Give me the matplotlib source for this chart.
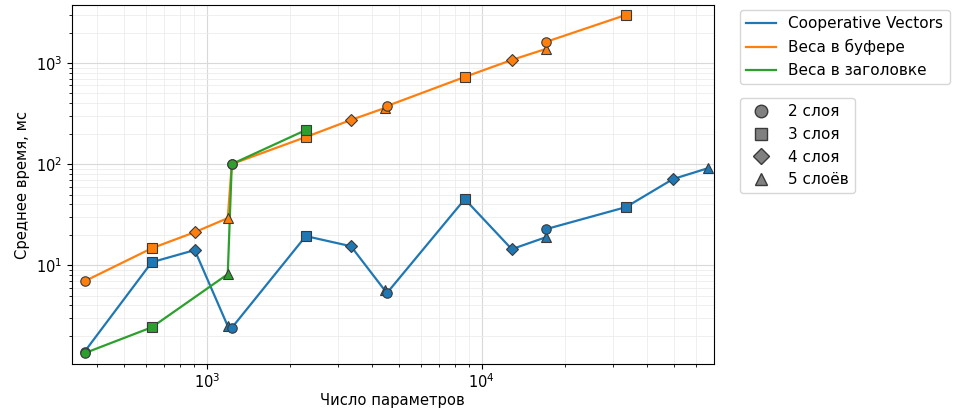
import matplotlib.pyplot as plt
from matplotlib.lines import Line2D

# number of parameters / mean time (ms) / layer count per point
coop_params = [360, 631, 904, 1192, 1233, 2291, 3343, 4436, 4519, 8671, 12850, 17100, 17100, 33400, 49500, 66400]
coop_time = [1.4, 10.7, 14.1, 2.5, 2.4, 19.4, 15.4, 5.65, 5.3, 45, 14.4, 18.9, 22.7, 37.5, 71, 91]
coop_layers = [2, 3, 4, 5, 2, 3, 4, 5, 2, 3, 4, 5, 2, 3, 4, 5]

buf_params = [360, 631, 904, 1192, 1233, 2291, 3343, 4436, 4519, 8671, 12850, 17100, 17100, 33400]
buf_time = [6.95, 14.7, 21.2, 29.2, 100, 185, 273, 358, 375, 727, 1071, 1376, 1615, 2985]
buf_layers = [2, 3, 4, 5, 2, 3, 4, 5, 2, 3, 4, 5, 2, 3]

hdr_params = [360, 631, 1192, 1233, 2291]
hdr_time = [1.35, 2.43, 8.15, 100, 217]
hdr_layers = [2, 3, 5, 2, 3]

series_names = ["Cooperative Vectors", "Веса в буфере", "Веса в заголовке"]
layer_labels = {2: "2 слоя", 3: "3 слоя", 4: "4 слоя", 5: "5 слоёв"}
layer_markers = {2: "o", 3: "s", 4: "D", 5: "^"}
colors = ["#1f77b4", "#ff7f0e", "#2ca02c"]

series = [
    (coop_params, coop_time, coop_layers),
    (buf_params, buf_time, buf_layers),
    (hdr_params, hdr_time, hdr_layers),
]

fig = plt.figure(figsize=(9.57, 4.11), dpi=100)
ax = fig.add_axes([0.075, 0.114, 0.671, 0.874])

for (xs, ys, layers), color in zip(series, colors):
    ax.plot(xs, ys, color=color, linewidth=1.6, zorder=2)
    for x, y, n in zip(xs, ys, layers):
        ms = 6 if layer_markers[n] == "D" else 6.8
        ax.plot(x, y, marker=layer_markers[n], markersize=ms, color=color,
                markeredgecolor="#3a3a3a", markeredgewidth=0.8, linestyle="none", zorder=3)

ax.set_xscale("log")
ax.set_yscale("log")
ax.set_xlim(323, 69800)
ax.set_ylim(1.05, 3750)
ax.grid(True, which="major", color="#d9d9d9", linewidth=0.8)
ax.grid(True, which="minor", color="#ececec", linewidth=0.6)
ax.set_axisbelow(True)
ax.tick_params(labelsize=10.5)
ax.tick_params(axis="x", pad=2.5)
ax.set_xlabel("Число параметров", fontsize=10.6, labelpad=1)
ax.set_ylabel("Среднее время, мс", fontsize=10.6)

line_handles = [Line2D([0], [0], color=c, linewidth=1.6) for c in colors]
leg1 = ax.legend(line_handles, series_names, loc="upper left", bbox_to_anchor=(1.04, 0.985),
                 fontsize=11, borderaxespad=0)
ax.add_artist(leg1)

marker_handles = [Line2D([0], [0], marker=layer_markers[n], color="#808080", markeredgecolor="#3a3a3a",
                         markersize=9 if n != 4 else 8, linestyle="none") for n in layer_labels]
ax.legend(marker_handles, list(layer_labels.values()), loc="upper left", bbox_to_anchor=(1.04, 0.74),
          fontsize=11, borderaxespad=0)

fig.savefig("out.png", dpi=100)
